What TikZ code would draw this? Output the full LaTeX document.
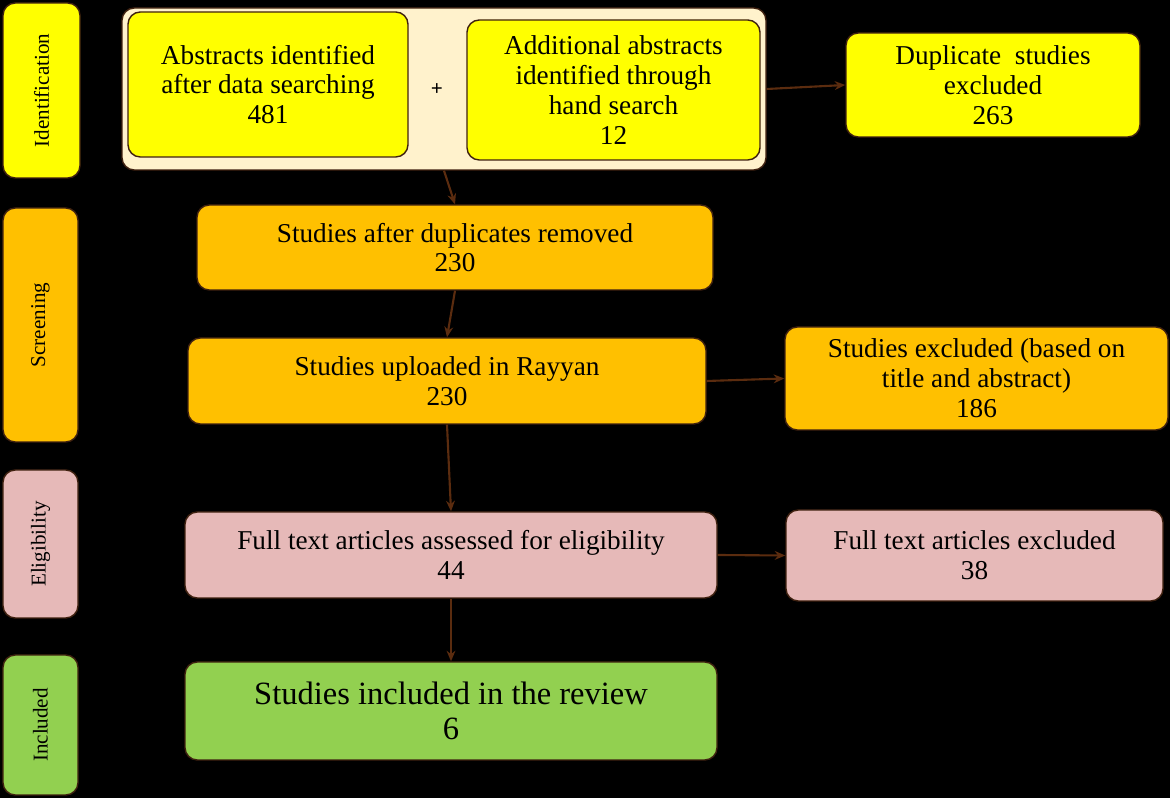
\documentclass[tikz,border=0pt]{standalone}
\usepackage{fontspec}
\setmainfont{Liberation Serif}
\usetikzlibrary{arrows.meta}
\usetikzlibrary{positioning}
\definecolor{brn}{HTML}{3F2110}
\definecolor{arr}{HTML}{5B2C0F}
\definecolor{ylw}{HTML}{FFFF00}
\definecolor{crm}{HTML}{FFF2CC}
\definecolor{org}{HTML}{FFC000}
\definecolor{pnk}{HTML}{E6B9B8}
\definecolor{grn}{HTML}{92D050}
\tikzset{
box/.style={draw=brn, line width=0.8pt, rounded corners=7pt, align=center, inner sep=2pt, font=\fontsize{15.5}{17}\selectfont},
side/.style={box, minimum width=1.5cm, rotate=90, font=\fontsize{12}{14}\selectfont},
flow/.style={arr, line width=1.2pt, -{Stealth[length=6pt,width=5pt]}}
}
\begin{document}
\begin{tikzpicture}
\fill[black] (0,0) rectangle (23.4,15.96);
\useasboundingbox (0,0) rectangle (23.4,15.96);
% stage labels
\node[side, fill=ylw, minimum width=3.5cm, minimum height=1.54cm] (ident) at (0.83,14.15) {Identification};
\node[side, fill=org, minimum width=4.68cm, minimum height=1.5cm] (screen) at (0.81,9.46) {Screening};
\node[side, fill=pnk, minimum width=2.96cm, minimum height=1.5cm] (elig) at (0.81,5.08) {Eligibility};
\node[side, fill=grn, minimum width=2.8cm, minimum height=1.5cm] (incl) at (0.81,1.46) {Included};
% identification
\node[box, fill=crm, minimum width=12.88cm, minimum height=3.24cm] (outer) at (8.88,14.18) {};
\node[box, fill=ylw, minimum width=5.6cm, minimum height=2.9cm] (abs) at (5.36,14.27) {Abstracts identified\\after data searching\\481};
\node[box, fill=ylw, minimum width=5.86cm, minimum height=2.8cm] (hand) at (12.27,14.16) {Additional abstracts\\identified through\\hand search\\12};
\node[font=\bfseries\large] (plus) at (8.74,14.16) {+};
\node[box, fill=ylw, minimum width=5.88cm, minimum height=2.08cm] (dup) at (19.86,14.26) {Duplicate\ \ studies\\excluded\\263};
% screening
\node[box, fill=org, minimum width=10.32cm, minimum height=1.7cm] (after) at (9.10,11.01) {Studies after duplicates removed\\230};
\node[box, fill=org, minimum width=10.36cm, minimum height=1.72cm] (rayyan) at (8.94,8.34) {Studies uploaded in Rayyan\\230};
\node[box, fill=org, minimum width=7.66cm, minimum height=2.06cm] (title) at (19.53,8.39) {Studies excluded (based on\\title and abstract)\\186};
% eligibility
\node[box, fill=pnk, minimum width=10.64cm, minimum height=1.72cm] (full) at (9.02,4.86) {Full text articles assessed for eligibility\\44};
\node[box, fill=pnk, minimum width=7.54cm, minimum height=1.82cm] (ftex) at (19.49,4.85) {Full text articles excluded\\38};
% included
\node[box, fill=grn, minimum width=10.64cm, minimum height=1.96cm, font=\fontsize{18.5}{20}\selectfont] (review) at (9.02,1.74) {Studies included in the review\\6};
% connectors
\draw[flow] (outer.east) -- (dup.west);
\draw[flow] (outer.south) -- (after.north);
\draw[flow] (after.south) -- (rayyan.north);
\draw[flow] (rayyan.east) -- (title.west);
\draw[flow] (rayyan.south) -- (full.north);
\draw[flow] (full.east) -- (ftex.west);
\draw[flow] (full.south) -- (review.north);
\end{tikzpicture}
\end{document}
